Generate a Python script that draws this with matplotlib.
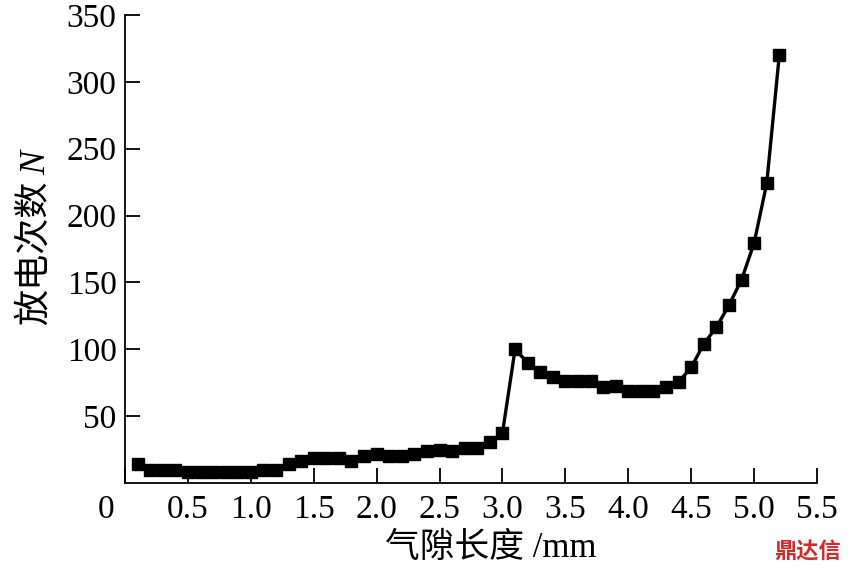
import numpy as np
import matplotlib
matplotlib.use("Agg")
import matplotlib.pyplot as plt
import matplotlib.transforms as mtransforms

plt.rcParams['font.family'] = ['Liberation Serif', 'Noto Sans CJK SC']

# 气隙长度 (mm)
gap_len = [0.1, 0.2, 0.3, 0.4, 0.5, 0.6, 0.7, 0.8, 0.9, 1.0,
           1.1, 1.2, 1.3, 1.4, 1.5, 1.6, 1.7, 1.8, 1.9, 2.0,
           2.1, 2.2, 2.3, 2.4, 2.5, 2.6, 2.7, 2.8, 2.9, 3.0,
           3.1, 3.2, 3.3, 3.4, 3.5, 3.6, 3.7, 3.8, 3.9, 4.0,
           4.1, 4.2, 4.3, 4.4, 4.5, 4.6, 4.7, 4.8, 4.9, 5.0,
           5.1, 5.2]
# 放电次数 N
counts = [14, 10, 10, 10, 8.5, 8.5, 8.5, 8.5, 8.5, 8.5,
          10, 10, 14, 16.5, 18.5, 18.5, 18.5, 16.5, 20, 22,
          20, 20, 22, 24, 25, 24, 26, 26, 31, 37.5,
          100, 90, 83, 79.5, 76.5, 76.5, 76.5, 71.5, 72.5, 69,
          68.5, 69, 72, 75.5, 86.5, 104, 116.5, 133, 152, 179.5,
          224, 320]

xticks = [0, 0.5, 1.0, 1.5, 2.0, 2.5, 3.0, 3.5, 4.0, 4.5, 5.0, 5.5]
xticklabels = ['0', '0.5', '1.0', '1.5', '2.0', '2.5', '3.0', '3.5', '4.0', '4.5', '5.0', '5.5']
yticks = [50, 100, 150, 200, 250, 300, 350]

fig = plt.figure(figsize=(8.51, 5.75), dpi=100)
ax = fig.add_axes([0.1469, 0.16, 0.8132, 0.8139])

x = np.array(gap_len)
y = np.array(counts)

# 连线部分
seg1 = (x >= 2.95) & (x <= 3.35)
seg2 = x >= 4.25
ax.plot(x[seg1], y[seg1], color='black', lw=2.4)
ax.plot(x[seg2], y[seg2], color='black', lw=2.4)
ax.plot(x, y, ls='none', marker='s', ms=8, color='black')

ax.set_xlim(0, 5.5)
ax.set_ylim(0, 350)
ax.spines['top'].set_visible(False)
ax.spines['right'].set_visible(False)
ax.spines['left'].set_linewidth(1.3)
ax.spines['bottom'].set_linewidth(1.3)

ax.set_xticks(xticks)
ax.set_xticklabels(xticklabels)
ax.set_yticks(yticks)
ax.tick_params(direction='in', length=11, width=1.3, labelsize=24, pad=6)
ax.tick_params(axis='x', pad=8)

# 把"0"向左移
off = mtransforms.ScaledTranslation(-14 / 72, 0, fig.dpi_scale_trans)
lbl0 = ax.get_xticklabels()[0]
lbl0.set_transform(lbl0.get_transform() + off)

ax.set_xlabel('气隙长度 /mm', fontsize=25, va='center')
ax.xaxis.set_label_coords(0.529, -0.139)

# y轴标题
fig.text(0.041, 1 - 253 / 575, '放电次数', rotation=90, fontsize=26,
         ha='center', va='center')
fig.text(0.043, 1 - 163 / 575, 'N', rotation=90, fontsize=26, style='italic',
         ha='center', va='center')

fig.text(0.988, 0.04, '鼎达信', color='#d42a2a', fontsize=16, fontweight='bold',
         ha='right', va='center', family=['Noto Sans CJK SC'])

fig.savefig('out.png', dpi=100)
